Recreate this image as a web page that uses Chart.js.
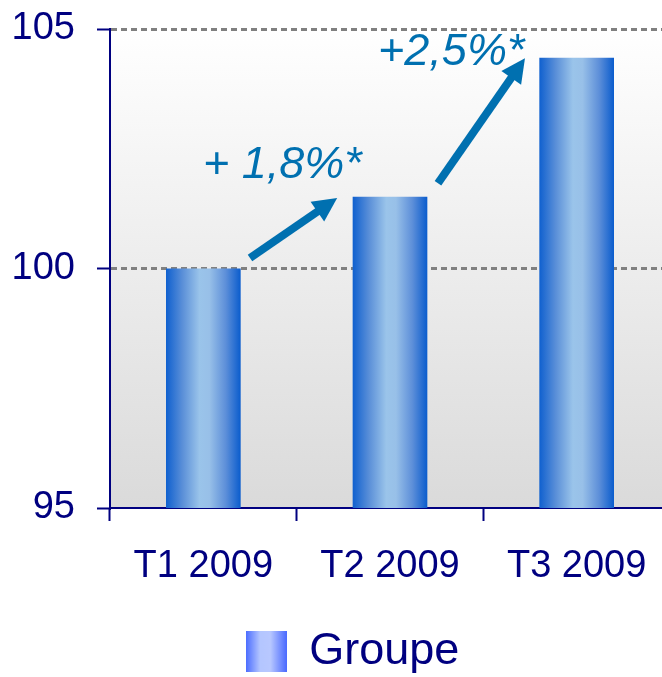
<!DOCTYPE html>
<html>
<head>
<meta charset="utf-8">
<script src="https://cdn.jsdelivr.net/npm/chart.js@4/dist/chart.umd.min.js"></script>
<style>
  html, body { margin: 0; padding: 0; background: #ffffff; overflow: hidden; }
  #wrap { width: 662px; height: 677px; overflow: hidden; position: relative; }
  #c { display: block; }
</style>
</head>
<body>
<div id="wrap"><canvas id="c" width="670" height="684" style="width:670px;height:684px"></canvas></div>
<script>
// ---- data ----
const categories = ['T1 2009', 'T2 2009', 'T3 2009'];
const groupeValues = [100, 101.5, 104.4];
const yTickValues = [95, 100, 105];
const growthLabels = ['+ 1,8%*', '+2,5%*'];
const seriesName = 'Groupe';

// ---- styles ----
const NAVY = '#000080';
const ARROW = '#0070b0';
const FONT = '"Liberation Sans", Arial, sans-serif';

function barGradient(ctx2d, x0, x1) {
  const g = ctx2d.createLinearGradient(x0, 0, x1, 0);
  g.addColorStop(0, '#0f60cf');
  g.addColorStop(0.22, '#5a8fd8');
  g.addColorStop(0.45, '#9ac4ea');
  g.addColorStop(0.58, '#98c0e8');
  g.addColorStop(0.8, '#5d8fd9');
  g.addColorStop(1, '#0a5ccd');
  return g;
}

// legend swatch as a small canvas image
const swatch = document.createElement('canvas');
swatch.width = 41; swatch.height = 41;
(function () {
  const s = swatch.getContext('2d');
  const g = s.createLinearGradient(0, 0, 41, 0);
  g.addColorStop(0, '#4a6cff');
  g.addColorStop(0.35, '#b4c6ff');
  g.addColorStop(0.6, '#b8c8ff');
  g.addColorStop(1, '#4a6aff');
  s.fillStyle = g;
  s.fillRect(0, 0, 41, 41);
})();

const bgPlugin = {
  id: 'plotBg',
  afterLayout(chart) {
    // centre the legend under the plot side (as in the original)
    if (chart.legend) chart.legend.left = 35;
  },
  beforeDraw(chart) {
    const a = chart.chartArea;
    if (!a) return;
    const c = chart.ctx;
    const g = c.createLinearGradient(0, a.top, 0, a.bottom);
    g.addColorStop(0, '#ffffff');
    g.addColorStop(1, '#dadada');
    c.save();
    c.fillStyle = g;
    c.fillRect(a.left, a.top, a.right - a.left, a.bottom - a.top);
    c.restore();
  }
};

// annotations: arrows between consecutive bars, positioned in data units
const growthPlugin = {
  id: 'growth',
  afterDatasetsDraw(chart, args, opts) {
    const xs = chart.scales.x, ys = chart.scales.y;
    const c = chart.ctx;
    c.save();
    opts.arrows.forEach((ar, k) => {
      const x1 = xs.getPixelForValue(ar.from[0]), y1 = ys.getPixelForValue(ar.from[1]);
      const x2 = xs.getPixelForValue(ar.to[0]), y2 = ys.getPixelForValue(ar.to[1]);
      const dx = x2 - x1, dy = y2 - y1, len = Math.hypot(dx, dy);
      const ux = dx / len, uy = dy / len;
      const head = 24, hw = 12;
      const bx = x2 - ux * head, by = y2 - uy * head;
      c.strokeStyle = ARROW;
      c.fillStyle = ARROW;
      c.lineWidth = 8;
      c.lineCap = 'butt';
      c.beginPath();
      c.moveTo(x1, y1);
      c.lineTo(bx + ux * 2, by + uy * 2);
      c.stroke();
      c.beginPath();
      c.moveTo(x2, y2);
      c.lineTo(bx - uy * hw, by + ux * hw);
      c.lineTo(bx + uy * hw, by - ux * hw);
      c.closePath();
      c.fill();

      const lb = opts.labels[k];
      c.font = 'italic 45px ' + FONT;
      c.textAlign = 'left';
      c.textBaseline = 'alphabetic';
      c.fillText(growthLabels[k], xs.getPixelForValue(lb[0]), ys.getPixelForValue(lb[1]));
    });
    c.restore();
  }
};

new Chart(document.getElementById('c'), {
  type: 'bar',
  data: {
    labels: categories,
    datasets: [{
      label: seriesName,
      data: groupeValues,
      backgroundColor: (ctx) => {
        const chart = ctx.chart;
        const xs = chart.scales && chart.scales.x;
        if (ctx.type !== 'data' || !xs || !chart.chartArea) return '#5a90dc';
        const cx = xs.getPixelForValue(ctx.dataIndex);
        const w = (xs.width / categories.length) * 0.4;
        return barGradient(chart.ctx, cx - w / 2, cx + w / 2);
      },
      borderWidth: 0,
      barPercentage: 0.4,
      categoryPercentage: 1.0
    }]
  },
  options: {
    responsive: false,
    animation: false,
    layout: { padding: { left: 0, top: 29, right: 0, bottom: 0 } },
    scales: {
      x: {
        offset: true,
        grid: {
          display: true,
          offset: true,
          drawOnChartArea: false,
          drawTicks: true,
          tickLength: 13,
          tickColor: NAVY,
          tickWidth: 2,
          color: NAVY
        },
        border: { display: true, color: NAVY, width: 2 },
        ticks: {
          color: NAVY,
          font: { family: FONT, size: 38 },
          padding: 23,
          maxRotation: 0
        },
        afterFit(scale) { scale.height = 111; }
      },
      y: {
        min: 95,
        max: 105,
        afterBuildTicks(scale) { scale.ticks = yTickValues.map(v => ({ value: v })); },
        grid: {
          color: (ctx) => (ctx.tick && ctx.tick.value === yTickValues[0]) ? 'rgba(0,0,0,0)' : '#808080',
          lineWidth: 3,
          tickColor: NAVY,
          tickWidth: 2,
          tickLength: 13,
          drawTicks: true
        },
        border: { display: true, color: NAVY, width: 2, dash: [6, 4] },
        ticks: {
          color: NAVY,
          font: { family: FONT, size: 38 },
          padding: 22
        },
        afterFit(scale) {
          scale.width = 110;
          scale.paddingTop = 0;
          scale.paddingBottom = 0;
        }
      }
    },
    plugins: {
      legend: {
        display: true,
        position: 'bottom',
        labels: {
          color: NAVY,
          font: { family: FONT, size: 45 },
          usePointStyle: true,
          boxWidth: 41,
          boxHeight: 41,
          padding: 10,
          generateLabels: () => [{
            text: seriesName,
            pointStyle: swatch,
            fillStyle: '#8aa8ff',
            strokeStyle: 'rgba(0,0,0,0)',
            lineWidth: 0,
            hidden: false,
            datasetIndex: 0,
            fontColor: NAVY
          }]
        }
      },
      tooltip: { enabled: false },
      growth: {
        arrows: [
          { from: [0.25, 100.22], to: [0.717, 101.47] },
          { from: [1.257, 101.78], to: [1.723, 104.39] }
        ],
        labels: [
          [-0.002, 101.89],
          [0.936, 104.25]
        ]
      }
    }
  },
  plugins: [bgPlugin, growthPlugin]
});
</script>
</body>
</html>
